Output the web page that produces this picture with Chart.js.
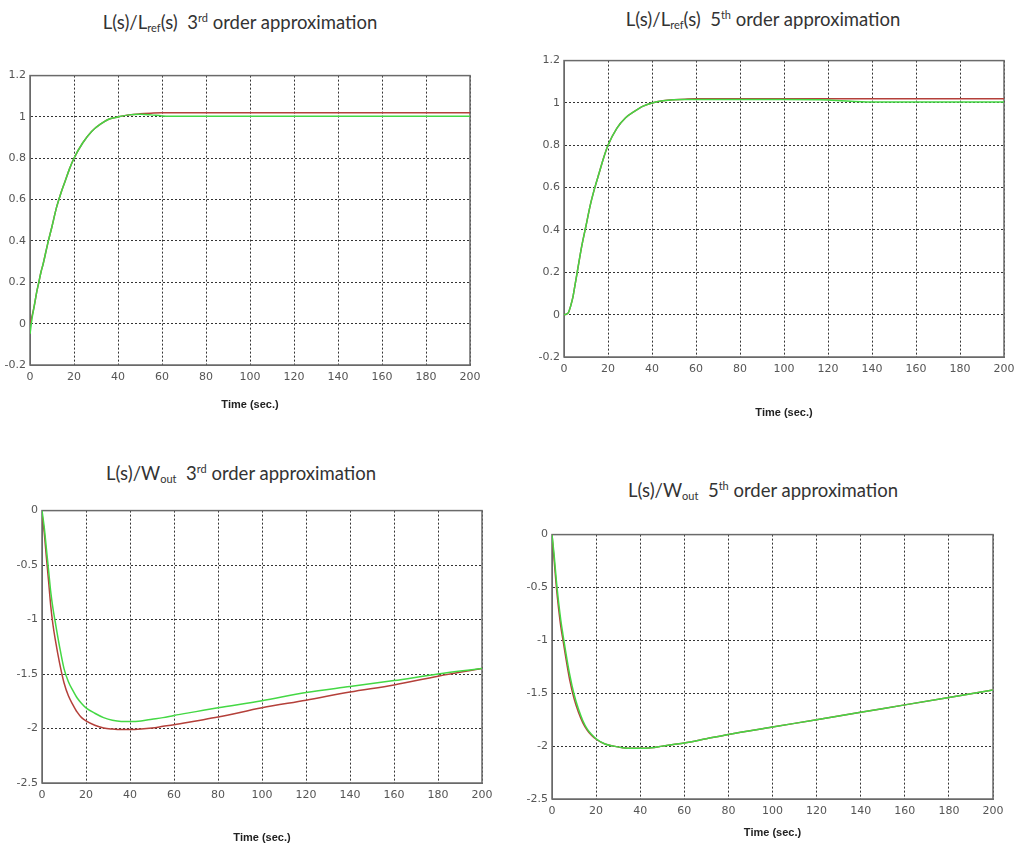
<!DOCTYPE html>
<html>
<head>
<meta charset="utf-8">
<title>L(s) step responses</title>
<script src="https://cdn.jsdelivr.net/npm/chart.js@4/dist/chart.umd.min.js"></script>
<style>
  html, body { margin: 0; padding: 0; background: #fff; overflow: hidden; }
  body { width: 1017px; height: 853px; position: relative; }
  canvas { position: absolute; }
  .ttl { position: absolute; font-family: "Lato", "Open Sans", sans-serif; font-size: 18.5px; color: #333;
         white-space: nowrap; transform: translate(-50%, -50%); }
  .ttl sub, .ttl sup { font-size: 11px; }
  .ttl sub { vertical-align: -3px; }
  .ttl sup { vertical-align: 7px; }
</style>
</head>
<body>

<div class="ttl" style="left:240px;top:22px">L(s)/L<sub>ref</sub>(s)&nbsp; 3<sup>rd</sup> order approximation</div>
<div class="ttl" style="left:763px;top:19px">L(s)/L<sub>ref</sub>(s)&nbsp; 5<sup>th</sup> order approximation</div>
<div class="ttl" style="left:241px;top:473px">L(s)/W<sub>out</sub>&nbsp; 3<sup>rd</sup> order approximation</div>
<div class="ttl" style="left:763px;top:490px">L(s)/W<sub>out</sub>&nbsp; 5<sup>th</sup> order approximation</div>

<canvas id="c1" width="490" height="347" style="left:0px;top:65px"></canvas>
<canvas id="c2" width="500" height="370" style="left:524px;top:50px"></canvas>
<canvas id="c3" width="500" height="345" style="left:2px;top:500px"></canvas>
<canvas id="c4" width="501" height="316" style="left:512px;top:524px"></canvas>

<script>
// time axis (sec.) shared by all four plots
var time = [0,1,2,3,4,5,6,8,10,12,14,16,18,20,24,28,32,36,40,45,50,55,60,70,80,100,120,140,160,180,200];
var xTicks = [0,20,40,60,80,100,120,140,160,180,200];

// L(s)/Lref(s), 3rd order
var red1   = [0,0.04,0.09,0.15,0.2,0.25,0.29,0.385,0.47,0.56,0.63,0.69,0.75,0.8,0.875,0.93,0.965,0.99,1.0,1.01,1.015,1.018,1.02,1.02,1.02,1.02,1.02,1.02,1.02,1.02,1.02];
var green1 = [-0.05,0.03,0.09,0.15,0.2,0.25,0.29,0.385,0.47,0.56,0.63,0.69,0.75,0.8,0.875,0.93,0.965,0.99,1.0,1.01,1.013,1.01,1.005,1.003,1.003,1.003,1.003,1.003,1.003,1.003,1.003];

// L(s)/Lref(s), 5th order
var red2   = [0,0.002,0.01,0.04,0.08,0.14,0.2,0.32,0.42,0.52,0.6,0.67,0.74,0.8,0.88,0.93,0.96,0.985,1.0,1.01,1.015,1.018,1.02,1.02,1.02,1.02,1.02,1.02,1.02,1.02,1.02];
var green2 = [0,0.002,0.01,0.04,0.08,0.14,0.2,0.32,0.42,0.52,0.6,0.67,0.74,0.8,0.88,0.93,0.96,0.985,1.0,1.01,1.015,1.016,1.016,1.016,1.016,1.016,1.014,1.004,1.004,1.004,1.004];

// L(s)/Wout, 3rd order
var red3   = [-0.03,-0.2,-0.43,-0.65,-0.88,-1.05,-1.18,-1.4,-1.58,-1.7,-1.78,-1.85,-1.9,-1.93,-1.97,-1.995,-2.005,-2.01,-2.01,-2.005,-1.995,-1.98,-1.965,-1.93,-1.895,-1.81,-1.74,-1.665,-1.6,-1.52,-1.45];
var green3 = [0,-0.15,-0.35,-0.55,-0.75,-0.9,-1.02,-1.25,-1.45,-1.57,-1.65,-1.72,-1.77,-1.81,-1.86,-1.9,-1.925,-1.935,-1.935,-1.93,-1.915,-1.9,-1.88,-1.845,-1.81,-1.745,-1.67,-1.615,-1.56,-1.5,-1.45];

// L(s)/Wout, 5th order
var red4   = [0,-0.25,-0.5,-0.7,-0.87,-1.0,-1.13,-1.37,-1.55,-1.68,-1.78,-1.85,-1.9,-1.935,-1.98,-2.0,-2.015,-2.02,-2.02,-2.015,-2.0,-1.985,-1.97,-1.93,-1.89,-1.82,-1.75,-1.68,-1.61,-1.54,-1.47];
var green4 = [0,-0.2,-0.44,-0.64,-0.81,-0.95,-1.08,-1.32,-1.51,-1.65,-1.76,-1.84,-1.89,-1.93,-1.98,-2.0,-2.015,-2.02,-2.02,-2.015,-2.0,-1.985,-1.97,-1.93,-1.89,-1.82,-1.75,-1.68,-1.61,-1.54,-1.47];

var RED = '#b4403a';
var GREEN = '#44d844';

function pairs(xs, ys) {
	var out = [];
	for (var i = 0; i < xs.length; i++) out.push({x: xs[i], y: ys[i]});
	return out;
}

// solid box round the plot area, like the matlab axes
var framePlugin = {
	id: 'frame',
	beforeDatasetsDraw: function(chart) {
		var a = chart.chartArea, ctx = chart.ctx;
		ctx.save();
		ctx.strokeStyle = '#6a6a6a';
		ctx.lineWidth = 1.5;
		ctx.setLineDash([]);
		ctx.strokeRect(a.left, a.top, a.right - a.left, a.bottom - a.top);
		ctx.restore();
	}
};

function fmt(v) { return String(+Number(v).toFixed(2)); }

function makeChart(id, red, green, yMin, yMax, yStep, yW, xH) {
	new Chart(document.getElementById(id), {
		type: 'line',
		data: {
			// first dataset is painted last, so green sits on top of red
			datasets: [
				{ data: pairs(time, green), borderColor: GREEN },
				{ data: pairs(time, red), borderColor: RED }
			]
		},
		options: {
			responsive: false,
			animation: false,
			layout: { padding: { left: 0, top: 10, right: 20, bottom: 0 } },
			plugins: { legend: { display: false }, tooltip: { enabled: false } },
			elements: {
				point: { radius: 0 },
				line: { borderWidth: 1.5, cubicInterpolationMode: 'monotone', fill: false }
			},
			scales: {
				x: {
					type: 'linear', min: 0, max: 200,
					afterBuildTicks: function(s) { s.ticks = xTicks.map(function(v){ return {value: v}; }); },
					afterFit: function(s) { s.height = xH; },
					grid: { color: '#333', lineWidth: 1, drawTicks: false },
					border: { display: true, color: '#6a6a6a', dash: [2, 2] },
					ticks: { padding: 6, color: '#555', font: { family: 'DejaVu Sans', size: 11 }, maxRotation: 0, callback: fmt },
					title: { display: true, text: 'Time (sec.)', color: '#222', padding: 0,
						font: { family: 'Liberation Sans', size: 11, weight: 'bold' } }
				},
				y: {
					min: yMin, max: yMax,
					afterFit: function(s) { s.width = yW; },
					grid: { color: '#333', lineWidth: 1, drawTicks: false },
					border: { display: true, color: '#6a6a6a', dash: [2, 2] },
					ticks: { stepSize: yStep, padding: 4, color: '#555', font: { family: 'DejaVu Sans', size: 11 }, callback: fmt }
				}
			}
		},
		plugins: [framePlugin]
	});
}

makeChart('c1', red1, green1, -0.2, 1.2, 0.2, 30, 47);
makeChart('c2', red2, green2, -0.2, 1.2, 0.2, 40, 63);
makeChart('c3', red3, green3, -2.5, 0, 0.5, 40, 62);
makeChart('c4', red4, green4, -2.5, 0, 0.5, 40, 41);
</script>
</body>
</html>
